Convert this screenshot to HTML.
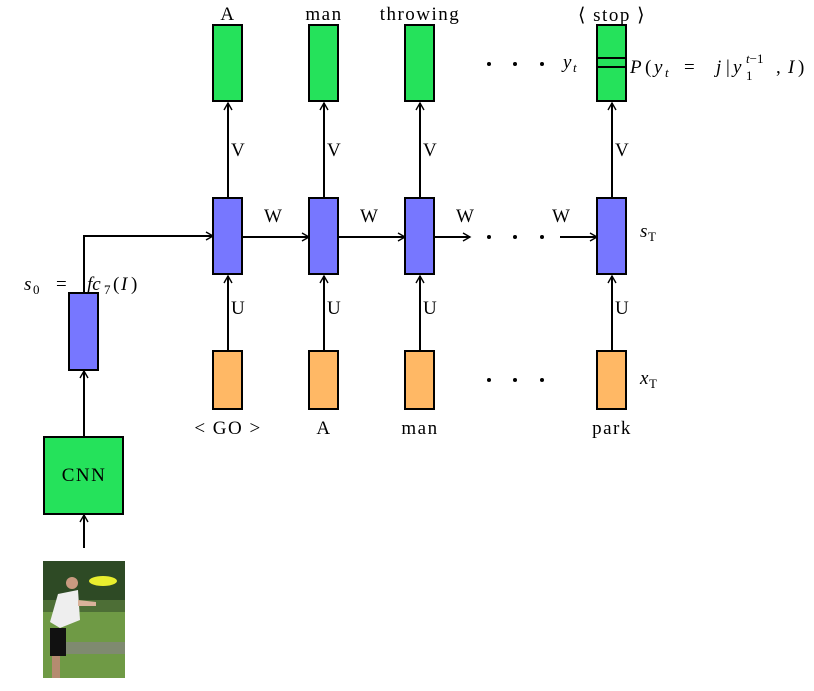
<!DOCTYPE html>
<html><head><meta charset="utf-8"><style>
html,body{margin:0;padding:0;background:#fff;}
svg{display:block;}
text{font-family:"Liberation Serif",serif;font-size:19px;fill:#000;letter-spacing:1.5px;}
.i{font-style:italic;letter-spacing:0;}
.s{font-size:13px;letter-spacing:0;}
</style></head><body>
<svg width="814" height="691" viewBox="0 0 814 691" xmlns="http://www.w3.org/2000/svg">
<defs>
<marker id="a" markerWidth="10" markerHeight="10" refX="8" refY="5" orient="auto" markerUnits="userSpaceOnUse">
<path d="M1,1 L8,5 L1,9" fill="none" stroke="#000" stroke-width="1.4"/>
</marker>
</defs>
<g stroke="#000" stroke-width="2" fill="none">
<line x1="228" y1="197" x2="228" y2="103" marker-end="url(#a)"/>
<line x1="324" y1="197" x2="324" y2="103" marker-end="url(#a)"/>
<line x1="420" y1="197" x2="420" y2="103" marker-end="url(#a)"/>
<line x1="612" y1="197" x2="612" y2="103" marker-end="url(#a)"/>
<line x1="228" y1="351" x2="228" y2="276" marker-end="url(#a)"/>
<line x1="324" y1="351" x2="324" y2="276" marker-end="url(#a)"/>
<line x1="420" y1="351" x2="420" y2="276" marker-end="url(#a)"/>
<line x1="612" y1="351" x2="612" y2="276" marker-end="url(#a)"/>
<line x1="242" y1="237" x2="309" y2="237" marker-end="url(#a)"/>
<line x1="338" y1="237" x2="405" y2="237" marker-end="url(#a)"/>
<line x1="434" y1="237" x2="470" y2="237" marker-end="url(#a)"/>
<line x1="560" y1="237" x2="597" y2="237" marker-end="url(#a)"/>
<polyline points="84,293 84,236 213,236" marker-end="url(#a)"/>
<line x1="84" y1="437" x2="84" y2="371" marker-end="url(#a)"/>
<line x1="84" y1="548" x2="84" y2="515" marker-end="url(#a)"/>
</g>
<g stroke="#000" stroke-width="2">
<rect x="213" y="25" width="29" height="76" fill="#25e25b"/>
<rect x="309" y="25" width="29" height="76" fill="#25e25b"/>
<rect x="405" y="25" width="29" height="76" fill="#25e25b"/>
<rect x="597" y="25" width="29" height="76" fill="#25e25b"/>
<line x1="597" y1="58" x2="626" y2="58"/>
<line x1="597" y1="67" x2="626" y2="67"/>
<rect x="213" y="198" width="29" height="76" fill="#7777ff"/>
<rect x="309" y="198" width="29" height="76" fill="#7777ff"/>
<rect x="405" y="198" width="29" height="76" fill="#7777ff"/>
<rect x="597" y="198" width="29" height="76" fill="#7777ff"/>
<rect x="69" y="293" width="29" height="77" fill="#7777ff"/>
<rect x="213" y="351" width="29" height="58" fill="#ffb865"/>
<rect x="309" y="351" width="29" height="58" fill="#ffb865"/>
<rect x="405" y="351" width="29" height="58" fill="#ffb865"/>
<rect x="597" y="351" width="29" height="58" fill="#ffb865"/>
<rect x="44" y="437" width="79" height="77" fill="#25e25b"/>
</g>
<g fill="#000">
<circle cx="489" cy="237" r="2"/><circle cx="515" cy="237" r="2"/><circle cx="542" cy="237" r="2"/>
<circle cx="489" cy="380" r="2"/><circle cx="515" cy="380" r="2"/><circle cx="542" cy="380" r="2"/>
<circle cx="489" cy="64" r="2"/><circle cx="515" cy="64" r="2"/><circle cx="542" cy="64" r="2"/>
</g>
<text x="228" y="20" text-anchor="middle">A</text>
<text x="324" y="20" text-anchor="middle">man</text>
<text x="420" y="20" text-anchor="middle">throwing</text>
<text x="612" y="21" text-anchor="middle">⟨ stop ⟩</text>
<text x="563" y="68" class="i">y</text><text x="573" y="72" class="i s">t</text>
<!-- P formula -->
<text x="630" y="73" class="i">P</text>
<text x="645" y="73" style="letter-spacing:0">(</text>
<text x="654" y="73" class="i">y</text>
<text x="665" y="77" class="i s">t</text>
<text x="684" y="73" style="letter-spacing:0">=</text>
<text x="716" y="73" class="i">j</text>
<text x="726" y="73" style="letter-spacing:0">|</text>
<text x="733" y="73" class="i">y</text>
<text x="746" y="63" class="s"><tspan font-style="italic">t</tspan>−1</text>
<text x="746" y="80" class="s">1</text>
<text x="776" y="73" style="letter-spacing:0">,</text>
<text x="788" y="73" class="i">I</text>
<text x="798" y="73" style="letter-spacing:0">)</text>
<text x="231" y="156">V</text><text x="327" y="156">V</text><text x="423" y="156">V</text><text x="615" y="156">V</text>
<text x="231" y="314">U</text><text x="327" y="314">U</text><text x="423" y="314">U</text><text x="615" y="314">U</text>
<text x="264" y="222">W</text><text x="360" y="222">W</text><text x="456" y="222">W</text><text x="552" y="222">W</text>
<text x="640" y="237" class="i">s</text><text x="648" y="241" class="s">T</text>
<text x="640" y="384" class="i">x</text><text x="649" y="388" class="s">T</text>
<text x="228" y="434" text-anchor="middle">&lt; GO &gt;</text>
<text x="324" y="434" text-anchor="middle">A</text>
<text x="420" y="434" text-anchor="middle">man</text>
<text x="612" y="434" text-anchor="middle">park</text>
<!-- s0 = fc7(I) -->
<text x="24" y="290" class="i">s</text><text x="33" y="294" class="s">0</text>
<text x="56" y="290" style="letter-spacing:0">=</text>
<text x="87" y="290" class="i">fc</text><text x="104" y="294" class="s">7</text>
<text x="113" y="290" style="letter-spacing:0">(</text><text x="121" y="290" class="i">I</text><text x="131" y="290" style="letter-spacing:0">)</text>
<text x="84" y="481" text-anchor="middle">CNN</text>
<g>
<rect x="43" y="561" width="82" height="117" fill="#6f9a45"/>
<rect x="43" y="561" width="82" height="50" fill="#2e4a25"/>
<rect x="43" y="600" width="82" height="12" fill="#4d6e36"/>
<rect x="65" y="642" width="60" height="12" fill="#7f8a70"/>
<ellipse cx="103" cy="581" rx="14" ry="5" fill="#e9ee2e"/>
<circle cx="72" cy="583" r="6" fill="#c99a80"/>
<path d="M58,594 L78,590 L80,620 L60,628 L50,622 Z" fill="#eeeeee"/>
<path d="M78,600 L96,602 L96,606 L78,606 Z" fill="#d9b29a"/>
<rect x="50" y="628" width="16" height="28" fill="#111"/>
<rect x="52" y="656" width="8" height="22" fill="#b58b70"/>
</g>
</svg>
</body></html>
